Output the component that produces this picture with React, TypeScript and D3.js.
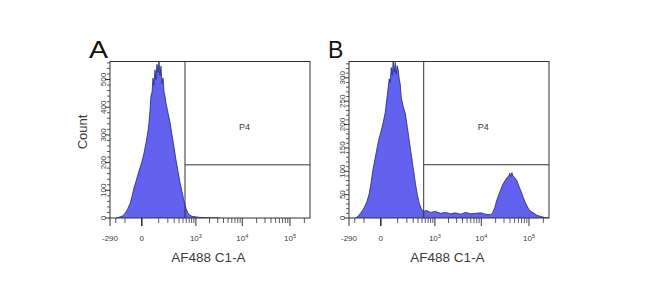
import React from "react";
import * as d3 from "d3";

// ---------- data ----------
const panelLabels = ["A", "B"];
const axisTitleX = "AF488 C1-A";
const axisTitleY = "Count";
const gateName = "P4";

const xDomain = [-290, 262143];
const xTickValues = [-290, 0, 1000, 10000, 100000];
const xTickBase = ["-290", "0", "10", "10", "10"];
const xTickExp = ["", "", "3", "4", "5"];
const xMinorTicks = [
  -200, -100, 100, 200, 300, 400, 500, 600, 700, 800, 900,
  2000, 3000, 4000, 5000, 6000, 7000, 8000, 9000,
  20000, 30000, 40000, 50000, 60000, 70000, 80000, 90000, 200000,
];

// Panel A histogram (fluorescence value, count)
const histAValues = [
  -197, -172, -149, -128, -108, -91, -76, -61, -48, -37, -26, -16, -7, 1, 9, 18, 28, 33, 39, 44, 51, 57, 64, 71,
  78, 86, 94, 103, 112, 121, 131, 142, 153, 164, 176, 202, 231, 262, 297, 334, 377, 423, 473, 529, 591, 659,
  733, 815, 1006, 1235, 1515, 1854, 2265, 3368,
];
const histACounts = [
  0, 2, 4, 6, 12, 22, 35, 52, 78, 108, 132, 158, 182, 205, 235, 272, 315, 345, 390, 440, 455, 505, 480, 535,
  500, 555, 525, 565, 515, 548, 485, 505, 455, 440, 415, 380, 345, 300, 255, 210, 168, 128, 95, 62, 34, 17,
  10, 6, 4, 2, 2, 1, 1, 0,
];

// Panel B histogram (fluorescence value, count)
const histBValues = [
  -197, -171, -148, -127, -108, -91, -75, -60, -48, -36, -25, -15, -7, 1, 10, 19, 29, 40, 46, 52, 59, 65, 73, 80,
  88, 96, 105, 114, 124, 134, 156, 180, 206, 235, 267, 303, 342, 384, 432, 484, 541, 638, 791, 1030, 1334, 1719,
  2212, 2839, 3640, 4656, 5952, 7608, 9712, 12392, 15800, 17424, 19183, 21144, 23312, 25696, 28290, 31180,
  34360, 37870, 39700, 41700, 43800, 45970, 50660, 55820, 61470, 67740, 74650, 82270, 90580, 99830, 110000,
  127100, 147000, 178400, 216500, 262143,
];
const histBCounts = [
  0, 2, 6, 12, 18, 26, 36, 52, 75, 105, 128, 152, 170, 186, 205, 226, 262, 298, 290, 322, 305, 335, 312, 333,
  308, 326, 316, 298, 286, 258, 238, 224, 195, 165, 135, 105, 75, 50, 30, 20, 14, 16, 12, 14, 10, 12,
  9, 11, 8, 12, 9, 10, 11, 8, 7, 12, 22, 38, 50, 61, 72, 79,
  86, 90, 96, 88, 97, 91, 86, 80, 68, 58, 46, 35, 26, 18, 14,
  10, 6, 3, 1, 0,
];

const yMaxA = 565;
const yTicksA = [0, 100, 200, 300, 400, 500];
const yMaxB = 335;
const yTicksB = [0, 50, 100, 150, 200, 250, 300];

const gateValues = [559, 550];
const gateCounts = [192, 114];

// ---------- layout ----------
const W = 650;
const H = 291;
const plotTop = 61.5;
const plotBottom = 218;
const plotW = 200;
const panelLefts = [110, 349];

const fontFam = "'Liberation Sans', Arial, Helvetica, sans-serif";
const axisCol = "#333";
const textCol = "#3c3c3c";

type PanelProps = {
  idx: number;
  xs: number[];
  counts: number[];
  yMax: number;
  yTicks: number[];
  yMinorStep: number;
  showCount: boolean;
};

function Panel({ idx, xs, counts, yMax, yTicks, yMinorStep, showCount }: PanelProps) {
  const left = panelLefts[idx];
  const x = d3.scaleSymlog().constant(80).domain(xDomain).range([left, left + plotW]);
  const y = d3.scaleLinear().domain([0, yMax]).range([plotBottom, plotTop]);
  const data = xs.map((v, i) => [v, counts[i]] as [number, number]);
  const area = d3
    .area<[number, number]>()
    .x((d) => x(d[0]))
    .y0(y(0))
    .y1((d) => y(d[1]));
  const line = d3
    .line<[number, number]>()
    .x((d) => x(d[0]))
    .y((d) => y(d[1]));
  const yMinor = d3.range(0, yMax, yMinorStep).filter((v) => !yTicks.includes(v));
  const clipId = `clip${idx}`;
  const gx = x(gateValues[idx]);
  const gy = y(gateCounts[idx]);
  const right = left + plotW;
  return (
    <g>
      <defs>
        <clipPath id={clipId}>
          <rect x={left} y={plotTop} width={plotW} height={plotBottom - plotTop} />
        </clipPath>
      </defs>
      <g clipPath={`url(#${clipId})`}>
        <path d={area(data) || ""} fill="#6262ef" />
        <path d={line(data) || ""} fill="none" stroke="#22228a" strokeWidth={0.8} />
      </g>
      {/* frame */}
      <rect x={left} y={plotTop} width={plotW} height={plotBottom - plotTop} fill="none" stroke={axisCol} strokeWidth={1} />
      {/* gate */}
      <line x1={gx} x2={gx} y1={plotTop} y2={plotBottom} stroke={axisCol} strokeWidth={1} />
      <line x1={gx} x2={right} y1={gy} y2={gy} stroke={axisCol} strokeWidth={1} />
      <text x={(gx + right) / 2 - 3} y={130} fontSize={9} fill={textCol} fontFamily={fontFam} textAnchor="middle">
        {gateName}
      </text>
      {/* y ticks */}
      {yMinor.map((v) => (
        <line key={`ym${v}`} x1={left - 3} x2={left} y1={y(v)} y2={y(v)} stroke={axisCol} strokeWidth={0.8} />
      ))}
      {yTicks.map((v) => (
        <g key={`y${v}`}>
          <line x1={left - 5} x2={left} y1={y(v)} y2={y(v)} stroke={axisCol} strokeWidth={1} />
          <text
            transform={`translate(${left - 4.5},${y(v)}) rotate(-90)`}
            fontSize={8}
            fill={textCol}
            fontFamily={fontFam}
            textAnchor="middle"
          >
            {v}
          </text>
        </g>
      ))}
      {/* x ticks */}
      {xMinorTicks.map((v) => (
        <line key={`xm${v}`} x1={x(v)} x2={x(v)} y1={plotBottom} y2={plotBottom + 5} stroke={axisCol} strokeWidth={0.8} />
      ))}
      {xTickValues.map((v, i) => (
        <g key={`x${v}`}>
          <line x1={x(v)} x2={x(v)} y1={plotBottom} y2={plotBottom + 8} stroke={axisCol} strokeWidth={v === 0 ? 1.6 : 1} />
          <text x={x(v)} y={241} fontSize={8} fill={textCol} fontFamily={fontFam} textAnchor="middle">
            {xTickBase[i]}
            {xTickExp[i] && (
              <tspan dy={-3.5} fontSize={5.5}>
                {xTickExp[i]}
              </tspan>
            )}
          </text>
        </g>
      ))}
      <text x={left + plotW / 2 - 1.5} y={261.5} fontSize={13.5} fill={textCol} fontFamily={fontFam} textAnchor="middle">
        {axisTitleX}
      </text>
      {showCount && (
        <text
          transform={`translate(${left - 23},${132}) rotate(-90)`}
          fontSize={13}
          fill={textCol}
          fontFamily={fontFam}
          textAnchor="middle"
        >
          {axisTitleY}
        </text>
      )}
      <text
        x={left - 21}
        y={57.5}
        fontSize={23}
        fill="#111"
        fontFamily={fontFam}
        textLength={idx === 0 ? 19 : undefined}
        lengthAdjust="spacingAndGlyphs"
      >
        {panelLabels[idx]}
      </text>
    </g>
  );
}

export default function App() {
  return (
    <svg
      width={W}
      height={H}
      viewBox={`0 0 ${W} ${H}`}
      style={{ position: "absolute", left: 0, top: 0, background: "#fff" }}
    >
      <rect width={W} height={H} fill="#fff" />
      <Panel idx={0} xs={histAValues} counts={histACounts} yMax={yMaxA} yTicks={yTicksA} yMinorStep={20} showCount={true} />
      <Panel idx={1} xs={histBValues} counts={histBCounts} yMax={yMaxB} yTicks={yTicksB} yMinorStep={10} showCount={false} />
    </svg>
  );
}
